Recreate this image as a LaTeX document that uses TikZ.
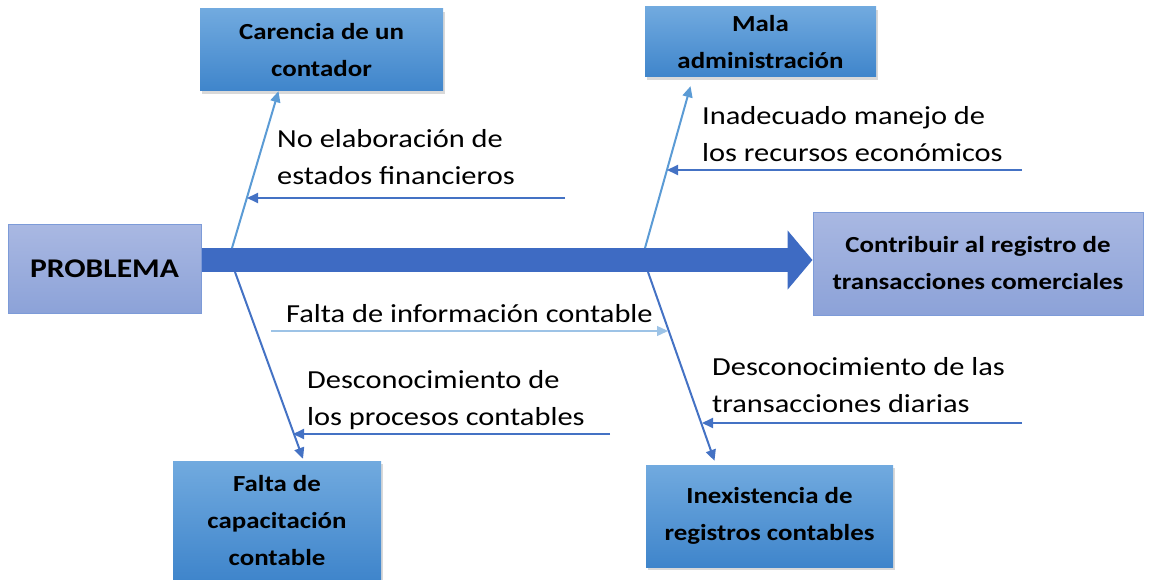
\documentclass[tikz,border=0pt]{standalone}
\usepackage{fontspec}
\setmainfont{Carlito}[FakeStretch=1.17]
\usetikzlibrary{arrows.meta, positioning, shadows}

\definecolor{boxtop}{HTML}{71AADF}
\definecolor{boxbot}{HTML}{3F85CB}
\definecolor{endtop}{HTML}{A9B8E2}
\definecolor{endbot}{HTML}{8CA2D8}
\definecolor{endline}{HTML}{7D9BD8}
\definecolor{bonelight}{HTML}{5B9BD5}
\definecolor{bonedark}{HTML}{4472C4}
\definecolor{finelight}{HTML}{9DC3E6}
\definecolor{spinecol}{HTML}{3E6BC3}

\tikzset{
	cause/.style={top color=boxtop, bottom color=boxbot, align=center, inner sep=0pt,
		font=\fontsize{23}{37}\selectfont\bfseries,
		drop shadow={shadow xshift=1.5pt, shadow yshift=-3pt, opacity=0.3}},
	effect/.style={top color=endtop, bottom color=endbot, draw=endline, line width=1pt,
		align=center, inner sep=0pt, font=\fontsize{23}{37}\selectfont\bfseries},
	spine/.style={draw=spinecol, line width=24pt, -{Triangle[length=25pt,width=58pt]}},
	bone/.style={draw=#1, line width=2pt, -{Triangle[length=11pt,width=10pt]}},
	finebone/.style={draw=finelight, line width=1.3pt, -{Triangle[length=11pt,width=10pt]}},
	lbl/.style={anchor=base west, align=left, inner sep=0pt, font=\fontsize{26}{37}\selectfont}
}

\begin{document}
\begin{tikzpicture}[x=1pt, y=-1pt, >=Stealth]
	\useasboundingbox (0,0) rectangle (1150,580);

	% head and effect
	\node[effect, minimum width=193pt, minimum height=89pt, font=\fontsize{27}{37}\selectfont\bfseries] (prob) at (104.5,269) {PROBLEMA};
	\node[effect, minimum width=330pt, minimum height=103pt] (meta) at (978,263.5) {Contribuir al registro de\\transacciones comerciales};

	% causes
	\node[cause, minimum width=243pt, minimum height=82pt] (carencia) at (321.5,50) {Carencia de un\\contador};
	\node[cause, minimum width=231pt, minimum height=70pt] (mala) at (760.5,42) {Mala\\administración};
	\node[cause, minimum width=208pt, minimum height=119pt] (falta) at (277,520.5) {Falta de\\capacitación\\contable};
	\node[cause, minimum width=247pt, minimum height=102pt] (inex) at (769.5,516) {Inexistencia de\\registros contables};

	% spine
	\coordinate (sp) at (0,260);
	\draw[spine] (prob.east |- sp) -- (meta.west |- sp);

	% main bones
	\coordinate (ul) at (232,248);
	\coordinate (ur) at (645,248);
	\coordinate (ll) at (235,272);
	\coordinate (lr) at (648,272);
	\draw[bone=bonelight] (ul) -- ([xshift=-43pt]carencia.south);
	\draw[bone=bonelight] (ur) -- ([xshift=-70pt, yshift=-9pt]mala.south);
	\draw[bone=bonedark] (ll) -- ([xshift=26pt, yshift=2pt]falta.north);
	\draw[bone=bonedark] (lr) -- ([xshift=-55pt, yshift=4pt]inex.north);

	% sub causes
	\coordinate (s1) at (565,198);  \coordinate (t1) at (247,198);
	\coordinate (s2) at (1022,170); \coordinate (t2) at (667,170);
	\coordinate (s3) at (271,331);  \coordinate (t3) at (668,331);
	\coordinate (s4) at (610,434);  \coordinate (t4) at (293,434);
	\coordinate (s5) at (1022,423); \coordinate (t5) at (702,423);
	\draw[bone=bonedark] (s1) -- (t1);
	\draw[bone=bonedark] (s2) -- (t2);
	\draw[finebone] (s3) -- (t3);
	\draw[bone=bonedark] (s4) -- (t4);
	\draw[bone=bonedark] (s5) -- (t5);

	% labels (base = last line)
	\node[lbl] (lab1) at (277,185) {No elaboración de\\estados financieros};
	\node[lbl] (lab2) at (702,162) {Inadecuado manejo de\\los recursos económicos};
	\node[lbl] (lab3) at (286,322) {Falta de información contable};
	\node[lbl] (lab4) at (307,425) {Desconocimiento de\\los procesos contables};
	\node[lbl] (lab5) at (712,412) {Desconocimiento de las\\transacciones diarias};
\end{tikzpicture}
\end{document}
